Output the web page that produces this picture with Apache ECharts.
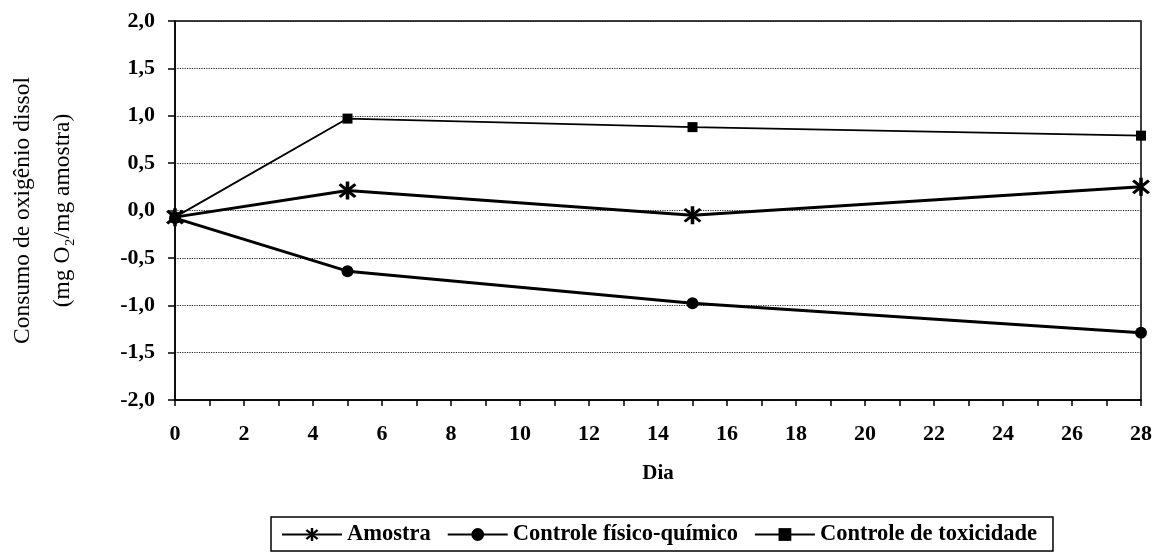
<!DOCTYPE html>
<html><head><meta charset="utf-8">
<script src="https://cdn.jsdelivr.net/npm/echarts@6/dist/echarts.min.js"></script>
<style>html,body{margin:0;padding:0;background:#fff}#c{width:1153px;height:554px}</style>
</head><body><div id="c"></div>
<script>
const days = [0, 5, 15, 28];
const amostra = [-0.07, 0.21, -0.05, 0.25];
const fisicoQuimico = [-0.08, -0.64, -0.98, -1.29];
const toxicidade = [-0.07, 0.97, 0.88, 0.79];
const seriesNames = ['Amostra', 'Controle físico-químico', 'Controle de toxicidade'];
const yTicks = [-2.0, -1.5, -1.0, -0.5, 0.0, 0.5, 1.0, 1.5, 2.0];
const xTicks = [0, 2, 4, 6, 8, 10, 12, 14, 16, 18, 20, 22, 24, 26, 28];
const yTitle = 'Consumo de oxigênio dissol\n(mg O₂/mg amostra)';
const xTitle = 'Dia';

const asterisk = 'path://M-1.6,-10L1.6,-10L1.6,10L-1.6,10Z' +
  'M-8.13,-6.01L-6.01,-8.13L8.13,6.01L6.01,8.13Z' +
  'M-6.01,8.13L-8.13,6.01L6.01,-8.13L8.13,-6.01Z';

const font = 'Liberation Serif';
const pairs = arr => days.map((d, i) => [d, arr[i]]);

const chart = echarts.init(document.getElementById('c'));
chart.setOption({
  animation: false,
  textStyle: { fontFamily: font, color: '#000' },
  grid: { left: 175, right: 12, top: 21, bottom: 154, show: true, borderColor: '#000', borderWidth: 1.5,
    containLabel: false, outerBoundsMode: 'none' },
  xAxis: {
    type: 'value', min: 0, max: 28, interval: 2,
    name: xTitle, nameLocation: 'middle', nameGap: 63,
    nameTextStyle: { fontFamily: font, fontWeight: 'bold', fontSize: 21, color: '#000' },
    axisLine: { onZero: false, lineStyle: { color: '#000', width: 1.5 } },
    axisTick: { show: true, inside: false, length: 6, lineStyle: { color: '#000', width: 1.5 } },
    minorTick: { show: true, splitNumber: 2, length: 6, lineStyle: { color: '#000', width: 1.5 } },
    axisLabel: { fontFamily: font, fontWeight: 'bold', fontSize: 22, color: '#000', margin: 23,
      formatter: v => xTicks.includes(v) ? String(v) : '' },
    splitLine: { show: false }
  },
  yAxis: {
    type: 'value', min: -2, max: 2, interval: 0.5,
    name: yTitle, nameLocation: 'middle', nameGap: 92,
    nameTextStyle: { fontFamily: font, fontSize: 23.5, color: '#000', lineHeight: 40 },
    axisLine: { show: true, onZero: false, lineStyle: { color: '#000', width: 1.5 } },
    axisTick: { show: true, inside: false, length: 7, lineStyle: { color: '#000', width: 1.5 } },
    axisLabel: { fontFamily: font, fontWeight: 'bold', fontSize: 22, color: '#000', margin: 20,
      formatter: v => yTicks.includes(Math.round(v * 10) / 10) ? v.toFixed(1).replace('.', ',') : '' },
    splitLine: { show: true, lineStyle: { color: '#222', type: 'dotted', width: 1.2 } }
  },
  legend: {
    left: 271, top: 517,
    data: seriesNames,
    itemWidth: 60, itemHeight: 16, itemGap: 16,
    borderColor: '#000', borderWidth: 1.5, padding: [6, 16, 5, 10],
    textStyle: { fontFamily: font, fontWeight: 'bold', fontSize: 22.5, color: '#000' }
  },
  series: [
    { name: seriesNames[0], type: 'line', data: pairs(amostra), symbol: asterisk, symbolSize: 18,
      lineStyle: { color: '#000', width: 3 }, itemStyle: { color: '#000' } },
    { name: seriesNames[1], type: 'line', data: pairs(fisicoQuimico), symbol: 'circle', symbolSize: 12,
      lineStyle: { color: '#000', width: 3 }, itemStyle: { color: '#000' } },
    { name: seriesNames[2], type: 'line', data: pairs(toxicidade), symbol: 'rect', symbolSize: 10,
      lineStyle: { color: '#000', width: 1.8 }, itemStyle: { color: '#000' } }
  ]
});
</script></body></html>
